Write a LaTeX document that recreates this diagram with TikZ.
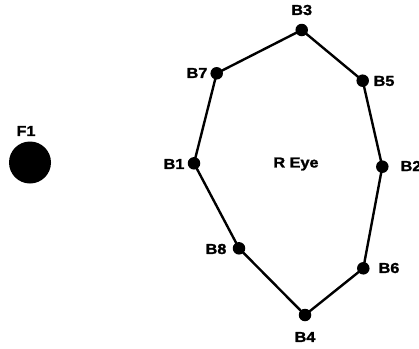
\documentclass[tikz,border=0pt]{standalone}
\usepackage{fontspec}
\newfontfamily\lblfont[FakeStretch=1.12,FakeBold=1.5]{Liberation Sans Bold}
\begin{document}
\begin{tikzpicture}[x=1pt,y=-1pt,
  dot/.style={circle,fill=black,inner sep=0pt,minimum size=12.5pt},
  lbl/.style={font=\lblfont\fontsize{14.5}{14.5}\selectfont,inner sep=0pt},
  edge/.style={line width=2.4pt}]
\useasboundingbox (0,0) rectangle (419,348);
\node[circle,fill=black,inner sep=0pt,minimum size=42pt] (F1) at (30,162.5) {};
\node[lbl] (F1l) at (26,131) {F1};
\node[dot] (B3) at (301.7,30) {};
\node[dot] (B5) at (362.7,80.7) {};
\node[dot] (B2) at (382.3,166.7) {};
\node[dot] (B6) at (363.3,268.3) {};
\node[dot] (B4) at (305,315) {};
\node[dot] (B8) at (239,248.3) {};
\node[dot] (B1) at (194,163.3) {};
\node[dot] (B7) at (216.7,73.3) {};
\draw[edge] (B3.center) -- (B5.center) -- (B2.center) -- (B6.center) -- (B4.center) -- (B8.center) -- (B1.center) -- (B7.center) -- (B3.center);
\node[lbl] (B3l) at (301.7,10) {B3};
\node[lbl] (B7l) at (197,73) {B7};
\node[lbl] (B5l) at (384,81) {B5};
\node[lbl] (B1l) at (174,164) {B1};
\node[lbl] (B2l) at (411,166) {B2};
\node[lbl] (B8l) at (216,249) {B8};
\node[lbl] (B6l) at (389,268) {B6};
\node[lbl] (B4l) at (305,337) {B4};
\node[lbl] (eye) at (296,164) {R Eye};
\end{tikzpicture}
\end{document}
